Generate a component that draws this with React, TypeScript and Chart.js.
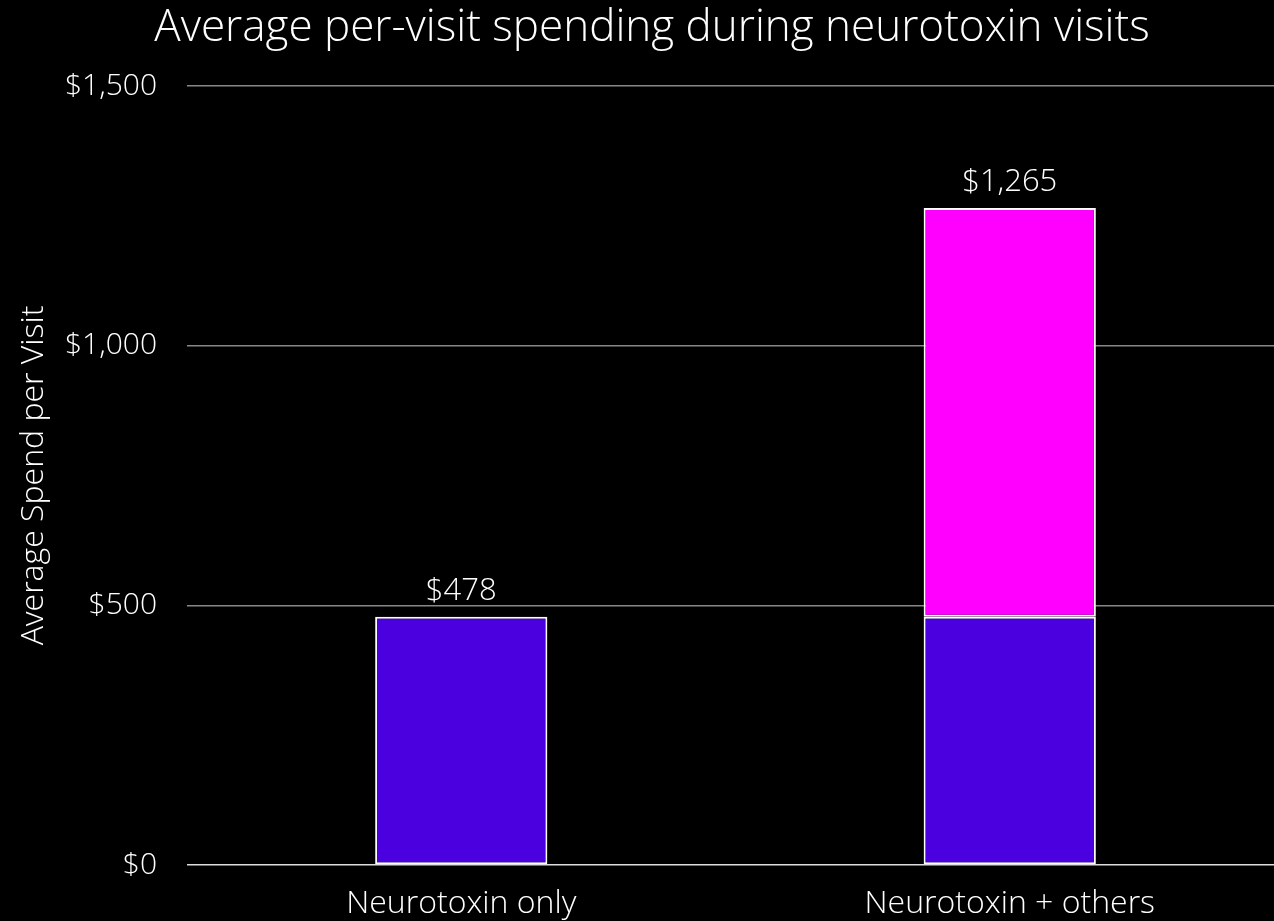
import React, { useEffect, useRef } from "react";
import { Chart, registerables } from "chart.js";

Chart.register(...registerables);

const categories = ["Neurotoxin only", "Neurotoxin + others"];
const neurotoxinSpend = [478, 478];
const otherSpend = [null, 787];
const totals = [478, 1265];
const yTicks = [0, 500, 1000, 1500];
const titleText = "Average per-visit spending during neurotoxin visits";

const FONT = "'Open Sans', Lato, sans-serif";

const fmt = (v: number) => "$" + v.toLocaleString("en-US");

const totalLabels = {
  id: "totalLabels",
  afterDatasetsDraw(chart: any) {
    const ctx = chart.ctx;
    ctx.save();
    ctx.fillStyle = "#ffffff";
    ctx.font = `300 31px ${FONT}`;
    ctx.textAlign = "center";
    ctx.textBaseline = "alphabetic";
    categories.forEach((_, i) => {
      let topY = Infinity;
      let x = 0;
      chart.data.datasets.forEach((ds: any, di: number) => {
        const v = ds.data[i];
        if (v === null || v === undefined) return;
        const el = chart.getDatasetMeta(di).data[i];
        if (el && el.y < topY) {
          topY = el.y;
          x = el.x;
        }
      });
      ctx.fillText(fmt(totals[i]), x, topY - 17);
    });
    // chart title, centred on the full canvas width
    ctx.font = `300 44px ${FONT}`;
    ctx.fillText(titleText, chart.width / 2, 41);
    ctx.restore();
  },
};

export default function App() {
  const ref = useRef<HTMLCanvasElement>(null);
  useEffect(() => {
    document.body.style.margin = "0";
    document.body.style.background = "#000";
    const chart = new Chart(ref.current!, {
      type: "bar",
      data: {
        labels: categories,
        datasets: [
          {
            label: "Neurotoxin",
            data: neurotoxinSpend,
            backgroundColor: "#4B00E0",
            borderColor: "#ffffff",
            borderWidth: 2,
            borderSkipped: false,
          },
          {
            label: "Other treatments",
            data: otherSpend as any,
            backgroundColor: "#FF00FF",
            borderColor: "#ffffff",
            borderWidth: 2,
            borderSkipped: false,
          },
        ],
      },
      options: {
        animation: false,
        responsive: false,
        maintainAspectRatio: false,
        layout: { padding: { left: 0, right: 20, top: 86, bottom: 0 } },
        datasets: { bar: { barPercentage: 0.314, categoryPercentage: 1 } },
        plugins: {
          legend: { display: false },
          tooltip: { enabled: false },
          title: { display: false },
        },
        scales: {
          x: {
            stacked: true,
            grid: { display: false, drawTicks: false },
            border: { display: false },
            ticks: {
              color: "#ffffff",
              font: { family: FONT, size: 32, weight: "300" as any },
              padding: 20,
            },
            afterFit(scale: any) {
              scale.height = 56;
            },
          },
          y: {
            stacked: true,
            min: 0,
            max: 1500,
            afterBuildTicks(scale: any) {
              scale.ticks = yTicks.map((v) => ({ value: v }));
            },
            grid: {
              drawTicks: false,
              color: (c: any) => (c.tick && c.tick.value === 0 ? "#dddddd" : "#888888"),
              lineWidth: 1.5,
            },
            border: { display: false },
            ticks: {
              color: "#ffffff",
              font: { family: FONT, size: 30, weight: "300" as any },
              padding: 30,
              callback: (v: any) => fmt(Number(v)),
            },
            title: {
              display: true,
              text: "Average Spend per Visit",
              color: "#ffffff",
              font: { family: FONT, size: 32, weight: "300" as any },
              padding: { top: 15, bottom: 0 },
            },
            afterFit(scale: any) {
              scale.width = 187;
            },
          },
        },
      },
      plugins: [totalLabels],
    });
    return () => chart.destroy();
  }, []);
  return (
    <div style={{ position: "fixed", left: 0, top: 0, width: 1274, height: 921, overflow: "hidden", background: "#000" }}>
      <canvas ref={ref} width={1304} height={921} style={{ display: "block", width: 1304, height: 921 }} />
    </div>
  );
}
